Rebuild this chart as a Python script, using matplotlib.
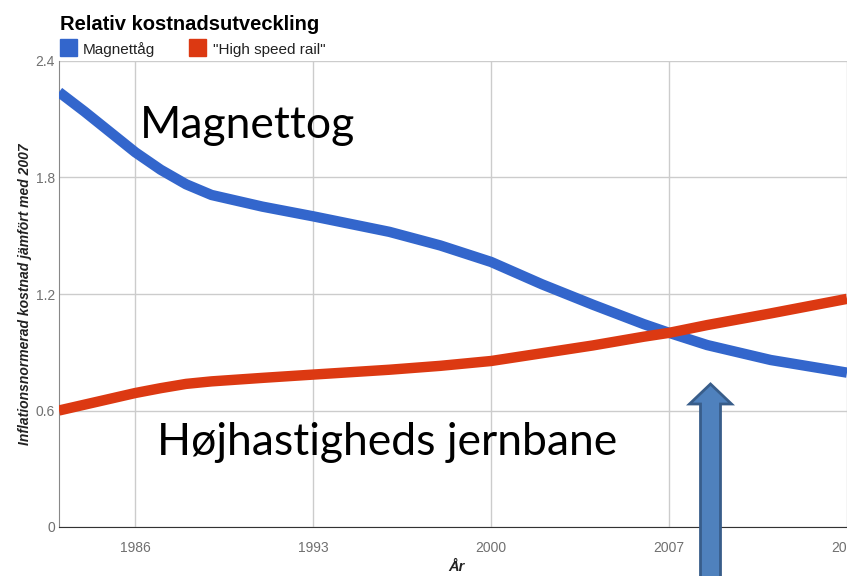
import matplotlib
matplotlib.use("Agg")
import matplotlib.pyplot as plt
from matplotlib.patches import FancyArrow, Rectangle

plt.rcParams["font.family"] = ["Liberation Sans", "DejaVu Sans"]

# data
years = [1983, 1984, 1985, 1986, 1987, 1988, 1989, 1991, 1993, 1996, 1998, 2000,
         2002, 2004, 2006, 2007, 2008.5, 2011, 2014]
magnettag = [2.24, 2.14, 2.035, 1.93, 1.84, 1.765, 1.71, 1.65, 1.60, 1.52, 1.45, 1.365,
             1.25, 1.145, 1.045, 1.0, 0.937, 0.86, 0.795]
hsr = [0.60, 0.63, 0.66, 0.69, 0.715, 0.737, 0.75, 0.768, 0.785, 0.81, 0.83, 0.855,
       0.895, 0.935, 0.98, 1.0, 1.04, 1.10, 1.175]
xticks = [1986, 1993, 2000, 2007, 2014]
yticks = [0, 0.6, 1.2, 1.8, 2.4]
ylabels = ["0", "0.6", "1.2", "1.8", "2.4"]

W, H = 847, 576
fig = plt.figure(figsize=(W / 100, H / 100), dpi=100)


def fx(px):
    return px / W


def fy(py):
    return 1 - py / H


ax = fig.add_axes([fx(59), fy(527), fx(847 - 59), (527 - 61) / H])
ax.plot(years, magnettag, color="#3366cc", lw=7.5, solid_joinstyle="round", solid_capstyle="butt", zorder=3)
ax.plot(years, hsr, color="#dc3912", lw=7.5, solid_joinstyle="round", solid_capstyle="butt", zorder=3)

ax.set_xlim(1983, 1983 + 788 / 25.53)
ax.set_ylim(0, 2.4)
ax.set_xticks(xticks)
ax.set_yticks(yticks)
ax.set_yticklabels(ylabels)
ax.grid(True, color="#cccccc", lw=1)
ax.set_axisbelow(True)
ax.tick_params(length=0, labelsize=10, labelcolor="#707070")
ax.tick_params(axis="y", pad=3)
ax.tick_params(axis="x", pad=10)
for s in ["top", "right"]:
    ax.spines[s].set_visible(False)
ax.spines["left"].set_color("#888888")
ax.spines["bottom"].set_color("#333333")

# titles and legend
fig.text(fx(60), fy(30), "Relativ kostnadsutveckling", fontsize=14.5, fontweight="bold", va="baseline")
fig.patches.append(Rectangle((fx(60), fy(56)), fx(17), 17 / H, color="#3366cc", transform=fig.transFigure))
fig.text(fx(83), fy(54), "Magnettåg", fontsize=11, color="#222222", va="baseline")
fig.patches.append(Rectangle((fx(189), fy(56)), fx(17), 17 / H, color="#dc3912", transform=fig.transFigure))
fig.text(fx(213), fy(54), '"High speed rail"', fontsize=11, color="#222222", va="baseline")

fig.text(fx(25), fy(294), "Inflationsnormerad kostnad jämfört med 2007", rotation=90, fontsize=10,
         fontweight="bold", style="italic", color="#222222", ha="center", va="center")
fig.text(fx(456), fy(567), "År", fontsize=10.5, fontweight="bold", style="italic",
         color="#222222", ha="center", va="center")

# overlay annotations
fig.text(fx(140), fy(138), "Magnettog", fontsize=32, family="Lato", va="baseline")
fig.text(fx(157), fy(455), "Højhastigheds jernbane", fontsize=32, family="Lato", va="baseline")

arrow = FancyArrow(fx(710.5), fy(580), 0, (580 - 384) / H, width=fx(20), head_width=fx(42),
                   head_length=20 / H, length_includes_head=True, transform=fig.transFigure,
                   facecolor="#4f81bd", edgecolor="#385d8a", lw=2, zorder=10)
fig.patches.append(arrow)

fig.savefig("out.png", dpi=100)
